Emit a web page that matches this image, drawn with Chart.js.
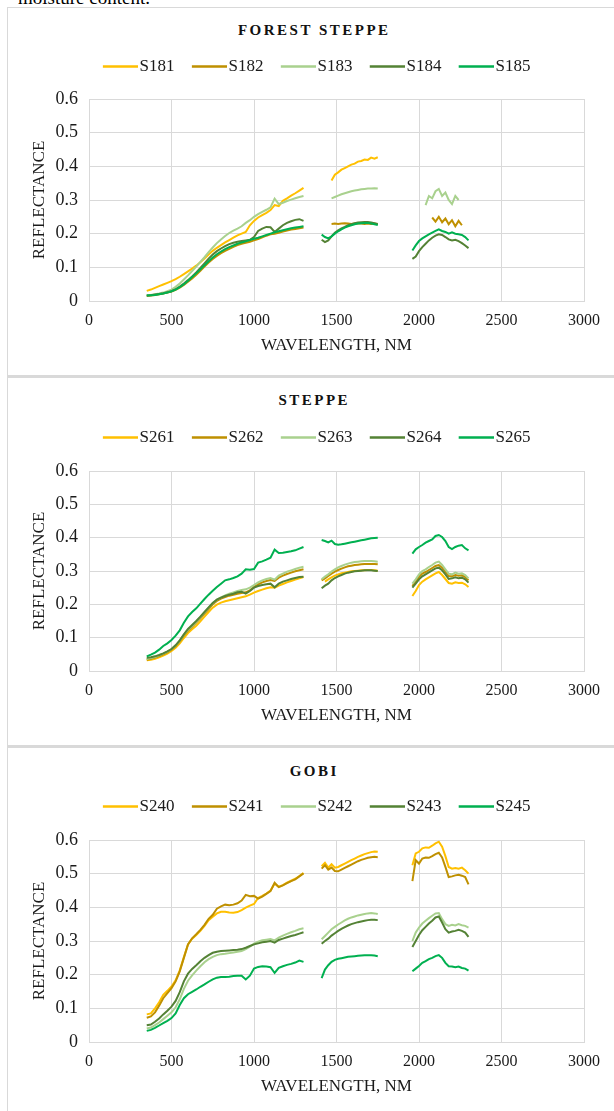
<!DOCTYPE html>
<html><head><meta charset="utf-8">
<script src="https://cdn.jsdelivr.net/npm/chart.js@4/dist/chart.umd.min.js"></script>
<style>
html,body{margin:0;padding:0;background:#fff;}
body{width:614px;height:1111px;overflow:hidden;position:relative;}
.cap{position:absolute;left:18px;top:-12px;font:19px/19px 'Liberation Serif',serif;color:#000;white-space:nowrap;}
.frame{position:absolute;left:7px;width:700px;border-left:1.5px solid #d9d9d9;}
.band{position:absolute;left:7px;width:700px;height:3px;background:#d9d9d9;}
.title{position:absolute;left:8px;width:610px;text-align:center;font:bold 15px/15px 'Liberation Serif',serif;letter-spacing:2.5px;padding-left:2.5px;box-sizing:border-box;color:#111;}
canvas{position:absolute;left:8px;}
</style></head>
<body>
<div class="cap">moisture content.</div>
<div class="frame" style="top:7px;height:368px;border-top:1.5px solid #d9d9d9;"></div>
<div class="band" style="top:375px"></div>
<div class="frame" style="top:378px;height:367px;"></div>
<div class="band" style="top:745px"></div>
<div class="frame" style="top:748px;height:400px;"></div>
<div class="title" style="top:22.5px">FOREST STEPPE</div>
<div class="title" style="top:393px">STEPPE</div>
<div class="title" style="top:763.5px">GOBI</div>
<canvas id="c1" width="617" height="319" style="top:41px"></canvas>
<canvas id="c2" width="617" height="318" style="top:412px"></canvas>
<canvas id="c3" width="617" height="320" style="top:781px"></canvas>
<script>
// Wavelength grid (nm); 1350 and 1850 are gaps (water absorption bands)
const wavelengths = [350,375,400,425,450,475,500,525,550,575,600,625,650,675,700,725,750,775,800,825,850,875,900,925,950,975,1000,1025,1050,1075,1100,1125,1150,1175,1200,1225,1250,1275,1300,
1350,
1410,1430,1450,1470,1490,1510,1530,1550,1570,1590,1610,1630,1650,1670,1690,1710,1730,1750,
1850,
1960,1980,2000,2020,2040,2060,2080,2100,2120,2140,2160,2180,2200,2220,2240,2260,2280,2300];

const seriesColors = ['#FFC000','#BF9000','#A9D18E','#548235','#00B050'];
const xTickValues = [0,500,1000,1500,2000,2500,3000];
const yTickValues = [0,0.1,0.2,0.3,0.4,0.5,0.6];

// FOREST STEPPE
const forestSteppeNames = ['S181','S182','S183','S184','S185'];
const S181 = [0.030,0.034,0.039,0.044,0.049,0.054,0.059,0.065,0.072,0.080,0.088,0.096,0.105,0.115,0.126,0.138,0.149,0.158,0.166,0.174,0.181,0.188,0.195,0.200,0.205,0.225,0.238,0.248,0.255,0.262,0.270,0.285,0.282,0.298,0.305,0.313,0.320,0.328,0.336,
null,
null,null,null,0.358,0.375,0.382,0.390,0.395,0.400,0.405,0.408,0.414,0.416,0.420,0.419,0.426,0.423,0.427,
null,
null,null,null,null,null,null,null,null,null,null,null,null,null,null,null,null,null,null];
const S182 = [0.015,0.016,0.018,0.020,0.022,0.025,0.028,0.033,0.040,0.048,0.057,0.067,0.078,0.090,0.102,0.114,0.125,0.134,0.142,0.149,0.155,0.161,0.166,0.170,0.173,0.176,0.180,0.184,0.189,0.194,0.198,0.200,0.203,0.206,0.209,0.212,0.214,0.216,0.218,
null,
null,null,null,0.229,0.230,0.229,0.230,0.231,0.230,0.229,0.230,0.231,0.230,0.229,0.230,0.229,0.230,0.228,
null,
null,null,null,null,null,null,0.248,0.236,0.250,0.234,0.245,0.228,0.240,0.222,0.238,0.225,null,null];
const S183 = [0.017,0.018,0.020,0.022,0.025,0.029,0.034,0.042,0.052,0.064,0.076,0.089,0.102,0.116,0.130,0.145,0.159,0.172,0.183,0.193,0.202,0.209,0.215,0.222,0.232,0.240,0.250,0.258,0.265,0.271,0.278,0.304,0.288,0.292,0.297,0.301,0.305,0.309,0.312,
null,
null,null,null,0.305,0.309,0.313,0.317,0.320,0.323,0.326,0.328,0.330,0.332,0.333,0.334,0.334,0.335,0.334,
null,
null,null,null,null,0.285,0.312,0.305,0.326,0.333,0.312,0.322,0.300,0.288,0.312,0.300,null,null,null];
const S184 = [0.016,0.017,0.019,0.021,0.023,0.026,0.029,0.035,0.043,0.052,0.062,0.073,0.085,0.098,0.112,0.126,0.138,0.148,0.156,0.163,0.169,0.173,0.176,0.178,0.180,0.182,0.190,0.208,0.215,0.220,0.219,0.205,0.215,0.225,0.232,0.237,0.241,0.243,0.238,
null,
0.182,0.175,0.180,0.192,0.203,0.210,0.216,0.220,0.225,0.228,0.231,0.233,0.234,0.235,0.235,0.233,0.231,0.229,
null,
0.125,0.132,0.148,0.160,0.170,0.180,0.188,0.194,0.198,0.196,0.190,0.183,0.180,0.182,0.178,0.172,0.165,0.157];
const S185 = [0.016,0.017,0.018,0.020,0.022,0.025,0.029,0.034,0.041,0.050,0.060,0.071,0.082,0.094,0.106,0.118,0.129,0.139,0.147,0.154,0.160,0.165,0.170,0.174,0.177,0.181,0.185,0.188,0.192,0.196,0.200,0.204,0.207,0.210,0.213,0.216,0.218,0.220,0.222,
null,
0.197,0.190,0.186,0.192,0.200,0.207,0.213,0.218,0.222,0.225,0.228,0.230,0.231,0.232,0.232,0.230,0.228,0.226,
null,
0.150,0.165,0.178,0.186,0.192,0.198,0.203,0.208,0.213,0.208,0.205,0.200,0.204,0.200,0.198,0.196,0.190,0.180];

// STEPPE
const steppeNames = ['S261','S262','S263','S264','S265'];
const S261 = [0.032,0.034,0.037,0.041,0.046,0.052,0.060,0.070,0.083,0.099,0.114,0.125,0.136,0.149,0.163,0.177,0.190,0.199,0.205,0.209,0.212,0.215,0.218,0.221,0.224,0.229,0.235,0.240,0.244,0.248,0.251,0.250,0.256,0.261,0.266,0.270,0.274,0.278,0.282,
null,
null,0.268,0.275,0.281,0.286,0.290,0.293,0.295,0.297,0.299,0.300,0.301,0.302,0.302,0.303,0.303,0.302,0.301,
null,
0.225,0.240,0.258,0.268,0.275,0.281,0.287,0.293,0.297,0.288,0.276,0.264,0.262,0.266,0.264,0.265,0.260,0.252];
const S262 = [0.034,0.037,0.040,0.045,0.050,0.056,0.064,0.075,0.089,0.106,0.121,0.133,0.145,0.158,0.172,0.186,0.200,0.210,0.217,0.222,0.226,0.229,0.232,0.234,0.236,0.242,0.252,0.260,0.266,0.270,0.273,0.270,0.280,0.286,0.291,0.295,0.299,0.302,0.305,
null,
0.272,0.278,0.285,0.292,0.298,0.303,0.307,0.311,0.314,0.316,0.318,0.319,0.320,0.321,0.321,0.321,0.321,0.320,
null,
0.255,0.268,0.282,0.292,0.297,0.303,0.309,0.315,0.318,0.310,0.298,0.285,0.284,0.288,0.286,0.287,0.282,0.272];
const S263 = [0.036,0.039,0.042,0.047,0.052,0.058,0.066,0.077,0.091,0.109,0.124,0.136,0.148,0.162,0.176,0.190,0.204,0.214,0.221,0.227,0.232,0.236,0.240,0.243,0.245,0.250,0.258,0.266,0.272,0.276,0.279,0.274,0.286,0.292,0.298,0.302,0.306,0.310,0.313,
null,
0.275,0.283,0.290,0.298,0.305,0.311,0.315,0.319,0.322,0.325,0.327,0.328,0.329,0.330,0.330,0.330,0.329,0.328,
null,
0.262,0.275,0.290,0.300,0.305,0.312,0.318,0.325,0.328,0.318,0.305,0.292,0.290,0.295,0.292,0.293,0.288,0.278];
const S264 = [0.040,0.041,0.044,0.048,0.053,0.059,0.066,0.077,0.092,0.110,0.126,0.138,0.150,0.163,0.177,0.191,0.204,0.214,0.220,0.225,0.229,0.232,0.236,0.238,0.232,0.240,0.250,0.255,0.258,0.260,0.262,0.251,0.262,0.268,0.272,0.276,0.279,0.282,0.283,
null,
0.248,0.256,0.262,0.272,0.279,0.284,0.288,0.292,0.295,0.297,0.299,0.300,0.301,0.302,0.302,0.302,0.301,0.300,
null,
0.250,0.262,0.275,0.284,0.290,0.296,0.302,0.308,0.310,0.302,0.290,0.276,0.278,0.281,0.278,0.280,0.275,0.265];
const S265 = [0.044,0.049,0.055,0.064,0.075,0.083,0.093,0.106,0.122,0.145,0.164,0.177,0.188,0.202,0.216,0.229,0.241,0.252,0.262,0.272,0.275,0.279,0.284,0.292,0.305,0.304,0.306,0.325,0.329,0.334,0.340,0.364,0.354,0.355,0.357,0.359,0.362,0.367,0.372,
null,
0.393,0.390,0.386,0.391,0.381,0.379,0.380,0.382,0.384,0.386,0.388,0.390,0.392,0.394,0.396,0.398,0.399,0.400,
null,
0.352,0.365,0.372,0.378,0.385,0.390,0.395,0.405,0.408,0.402,0.390,0.372,0.366,0.372,0.376,0.378,0.368,0.362];

// GOBI
const gobiNames = ['S240','S241','S242','S243','S245'];
const S240 = [0.082,0.085,0.100,0.118,0.140,0.152,0.165,0.183,0.213,0.252,0.290,0.307,0.318,0.330,0.345,0.362,0.372,0.382,0.387,0.387,0.385,0.384,0.386,0.392,0.399,0.405,0.410,0.428,0.434,0.441,0.450,0.470,0.461,0.466,0.473,0.479,0.485,0.493,0.502,
null,
0.522,0.532,0.518,0.528,0.518,0.520,0.525,0.530,0.535,0.540,0.545,0.550,0.554,0.558,0.561,0.564,0.566,0.565,
null,
0.525,0.560,0.565,0.575,0.578,0.577,0.583,0.590,0.595,0.580,0.552,0.520,0.515,0.517,0.515,0.518,0.510,0.500];
const S241 = [0.072,0.076,0.088,0.108,0.130,0.145,0.160,0.180,0.210,0.250,0.290,0.308,0.320,0.333,0.348,0.366,0.378,0.396,0.403,0.408,0.406,0.408,0.412,0.420,0.437,0.433,0.434,0.426,0.432,0.440,0.448,0.473,0.460,0.465,0.472,0.478,0.483,0.492,0.501,
null,
0.515,0.525,0.512,0.518,0.508,0.507,0.512,0.517,0.522,0.527,0.532,0.537,0.541,0.544,0.547,0.549,0.550,0.549,
null,
0.478,0.540,0.530,0.545,0.548,0.547,0.552,0.558,0.562,0.548,0.520,0.490,0.492,0.495,0.497,0.494,0.490,0.468];
const S242 = [0.040,0.043,0.050,0.058,0.068,0.078,0.088,0.103,0.127,0.158,0.182,0.198,0.212,0.225,0.237,0.246,0.253,0.258,0.261,0.262,0.264,0.266,0.268,0.270,0.276,0.283,0.292,0.298,0.302,0.304,0.306,0.302,0.310,0.316,0.321,0.326,0.330,0.335,0.338,
null,
0.305,0.315,0.325,0.335,0.342,0.349,0.355,0.361,0.366,0.370,0.373,0.376,0.378,0.380,0.382,0.383,0.382,0.380,
null,
0.300,0.325,0.340,0.352,0.360,0.368,0.375,0.382,0.383,0.365,0.350,0.345,0.348,0.346,0.350,0.347,0.345,0.340];
const S243 = [0.050,0.052,0.060,0.070,0.082,0.093,0.105,0.122,0.148,0.180,0.203,0.217,0.228,0.240,0.250,0.258,0.265,0.268,0.270,0.271,0.272,0.273,0.274,0.276,0.280,0.285,0.290,0.293,0.296,0.298,0.300,0.295,0.303,0.307,0.311,0.315,0.318,0.322,0.326,
null,
0.292,0.300,0.307,0.316,0.323,0.330,0.336,0.341,0.346,0.350,0.353,0.356,0.358,0.360,0.362,0.363,0.363,0.362,
null,
0.282,0.300,0.318,0.332,0.342,0.352,0.360,0.370,0.373,0.355,0.335,0.325,0.328,0.330,0.333,0.330,0.325,0.312];
const S245 = [0.033,0.036,0.042,0.049,0.056,0.063,0.071,0.085,0.110,0.130,0.142,0.149,0.156,0.164,0.171,0.179,0.186,0.191,0.193,0.193,0.194,0.196,0.197,0.197,0.186,0.197,0.218,0.223,0.225,0.224,0.222,0.205,0.220,0.225,0.229,0.232,0.236,0.242,0.238,
null,
0.190,0.215,0.228,0.238,0.244,0.247,0.249,0.251,0.253,0.254,0.255,0.256,0.257,0.258,0.258,0.258,0.257,0.255,
null,
0.210,0.218,0.226,0.235,0.240,0.246,0.250,0.255,0.258,0.250,0.235,0.225,0.224,0.222,0.224,0.220,0.218,0.212];

const FONT = "'Liberation Serif', 'Times New Roman', serif";
const TXT = '#1a1a1a';
Chart.defaults.font.family = FONT;

function legendLine(color) {
  const c = document.createElement('canvas');
  c.width = 42; c.height = 3;
  const g = c.getContext('2d');
  g.fillStyle = color;
  g.fillRect(7, 0.25, 35, 2.5);
  return c;
}

function makeChart(id, names, series, extra) {
  const datasets = names.map((n, i) => ({
    label: n,
    data: wavelengths.map((w, k) => ({x: w, y: series[i][k]})),
    borderColor: seriesColors[i],
    backgroundColor: seriesColors[i],
    borderWidth: 2,
    pointRadius: 0,
    pointHoverRadius: 0,
    pointStyle: legendLine(seriesColors[i]),
    tension: 0,
    spanGaps: false,
    fill: false,
    order: names.length - i
  }));
  const padPlugin = {
    id: 'legendGap',
    beforeInit(chart) {
      const orig = chart.legend.fit;
      chart.legend.fit = function () { orig.call(this); this.height += extra; };
    }
  };
  new Chart(document.getElementById(id), {
    type: 'line',
    data: {datasets},
    plugins: [padPlugin],
    options: {
      responsive: false,
      animation: false,
      devicePixelRatio: 1,
      layout: {padding: 0},
      plugins: {
        title: {display: false},
        tooltip: {enabled: false},
        legend: {
          position: 'top', align: 'center',
          labels: {
            font: {family: FONT, size: 17}, color: TXT,
            usePointStyle: true, pointStyleWidth: 28.5, padding: 17,
            sort: (a, b) => a.datasetIndex - b.datasetIndex
          }
        }
      },
      scales: {
        x: {
          type: 'linear', min: 0, max: 3000,
          afterBuildTicks: s => { s.ticks = xTickValues.map(v => ({value: v})); },
          ticks: {font: {family: FONT, size: 16}, color: TXT, padding: 10, maxRotation: 0, autoSkip: false,
                  callback: v => String(v)},
          grid: {color: '#d9d9d9', lineWidth: 1, drawTicks: false},
          border: {color: '#d9d9d9'},
          title: {display: true, text: 'WAVELENGTH, NM', font: {family: FONT, size: 17}, color: TXT, padding: {top: 4, bottom: 4}},
          afterFit: s => { s.height = 59; s.paddingRight = 41; }
        },
        y: {
          min: 0, max: 0.6,
          afterBuildTicks: s => { s.ticks = yTickValues.map(v => ({value: v})); },
          ticks: {font: {family: FONT, size: 18}, color: TXT, padding: 11,
                  callback: v => (v === 0 ? '0' : Number(v).toFixed(1))},
          grid: {color: '#d9d9d9', lineWidth: 1, drawTicks: false},
          border: {color: '#d9d9d9'},
          title: {display: true, text: 'REFLECTANCE', font: {family: FONT, size: 17}, color: TXT, padding: {top: 21, bottom: 0}},
          afterFit: s => { s.width = 81; }
        }
      }
    }
  });
}

makeChart('c1', forestSteppeNames, [S181, S182, S183, S184, S185], 14);
makeChart('c2', steppeNames, [S261, S262, S263, S264, S265], 15);
makeChart('c3', gobiNames, [S240, S241, S242, S243, S245], 15);
</script>
</body></html>
